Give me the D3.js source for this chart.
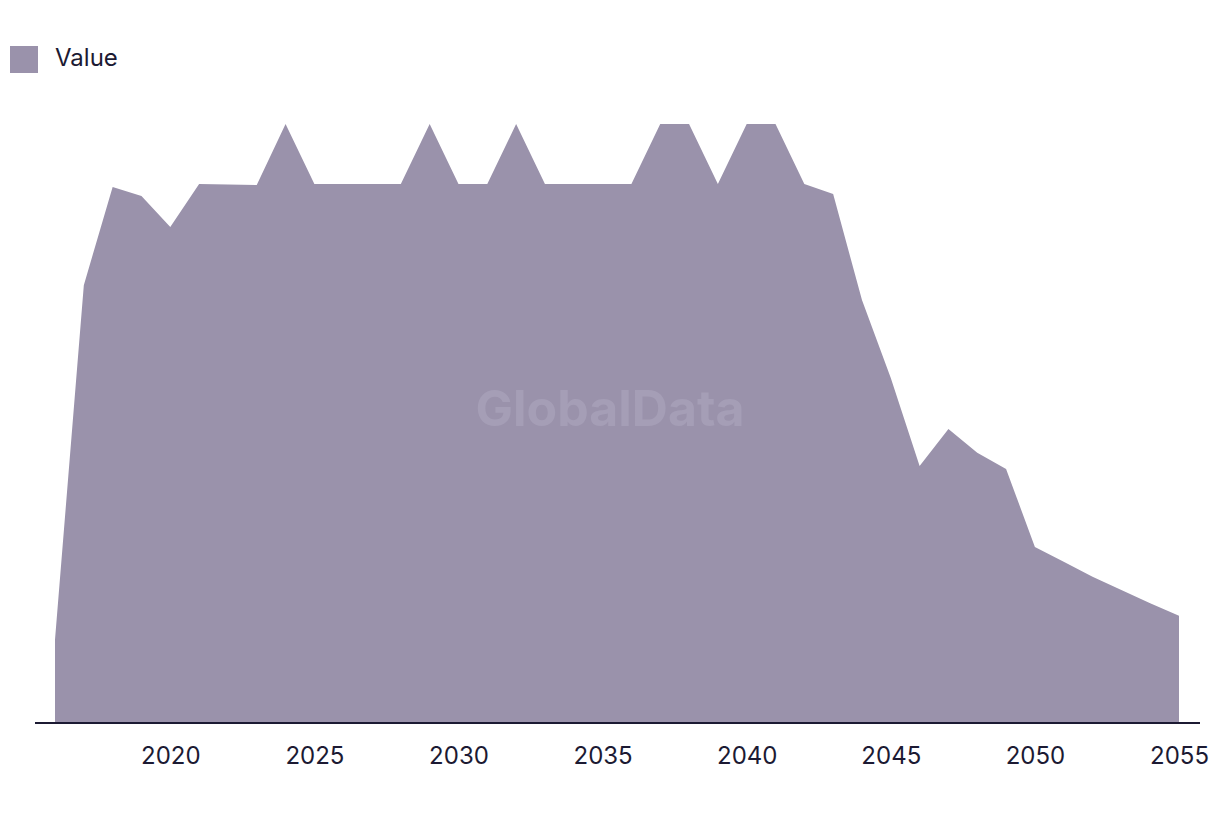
<!DOCTYPE html>
<html>
<head>
<meta charset="utf-8">
<script src="https://cdn.jsdelivr.net/npm/d3@7"></script>
<style>
  html, body { margin: 0; padding: 0; background: #fff; }
  svg { display: block; }
</style>
</head>
<body>
<svg id="chart" width="1220" height="816"></svg>
<script>
const years = [2016,2017,2018,2019,2020,2021,2022,2023,2024,2025,2026,2027,2028,2029,2030,2031,2032,2033,2034,2035,2036,2037,2038,2039,2040,2041,2042,2043,2044,2045,2046,2047,2048,2049,2050,2051,2052,2053,2054,2055];
const values = [1.39,7.31,8.95,8.80,8.28,9.00,8.99,8.98,10,9,9,9,9,10,9,9,10,9,9,9,9,10,10,9,10,10,9,8.83,7.06,5.76,4.29,4.91,4.51,4.24,2.94,2.69,2.44,2.22,2.00,1.79];
const tickYears = [2020,2025,2030,2035,2040,2045,2050,2055];
const seriesName = "Value";
const fillColor = "#9a92ab";
const textColor = "#1c1a33";

const data = years.map((y, i) => ({ year: y, value: values[i] }));
const svg = d3.select("#chart");

const x = d3.scaleLinear().domain([2016, 2055]).range([55, 1179]);
const y = d3.scaleLinear().domain([0, 10]).range([723, 124]);

const area = d3.area()
  .x(d => x(d.year))
  .y0(y(0))
  .y1(d => y(d.value));

svg.append("path")
  .datum(data)
  .attr("d", area)
  .attr("fill", fillColor);

// watermark
svg.append("text")
  .attr("x", 610)
  .attr("y", 426)
  .attr("text-anchor", "middle")
  .attr("font-family", "Inter, sans-serif")
  .attr("font-weight", "bold")
  .attr("font-size", 50)
  .attr("fill", "#a59eb6")
  .text("GlobalData");

// axis baseline
svg.append("line")
  .attr("x1", 35).attr("x2", 1200)
  .attr("y1", y(0)).attr("y2", y(0))
  .attr("stroke", textColor)
  .attr("stroke-width", 2);

const xAxis = d3.axisBottom(x)
  .tickValues(tickYears)
  .tickFormat(d3.format("d"))
  .tickSize(0)
  .tickPadding(0);

const gx = svg.append("g")
  .attr("transform", `translate(0, ${y(0)})`)
  .call(xAxis);
gx.select(".domain").remove();
gx.selectAll("text")
  .attr("y", 41)
  .attr("dy", 0)
  .attr("font-family", "Inter, sans-serif")
  .attr("font-size", 24)
  .attr("fill", textColor);

// legend
const legend = svg.append("g");
legend.append("rect")
  .attr("x", 10).attr("y", 46)
  .attr("width", 28).attr("height", 27)
  .attr("fill", fillColor);
legend.append("text")
  .attr("x", 55).attr("y", 66)
  .attr("font-family", "Inter, sans-serif")
  .attr("font-size", 24)
  .attr("fill", textColor)
  .text(seriesName);
</script>
</body>
</html>
